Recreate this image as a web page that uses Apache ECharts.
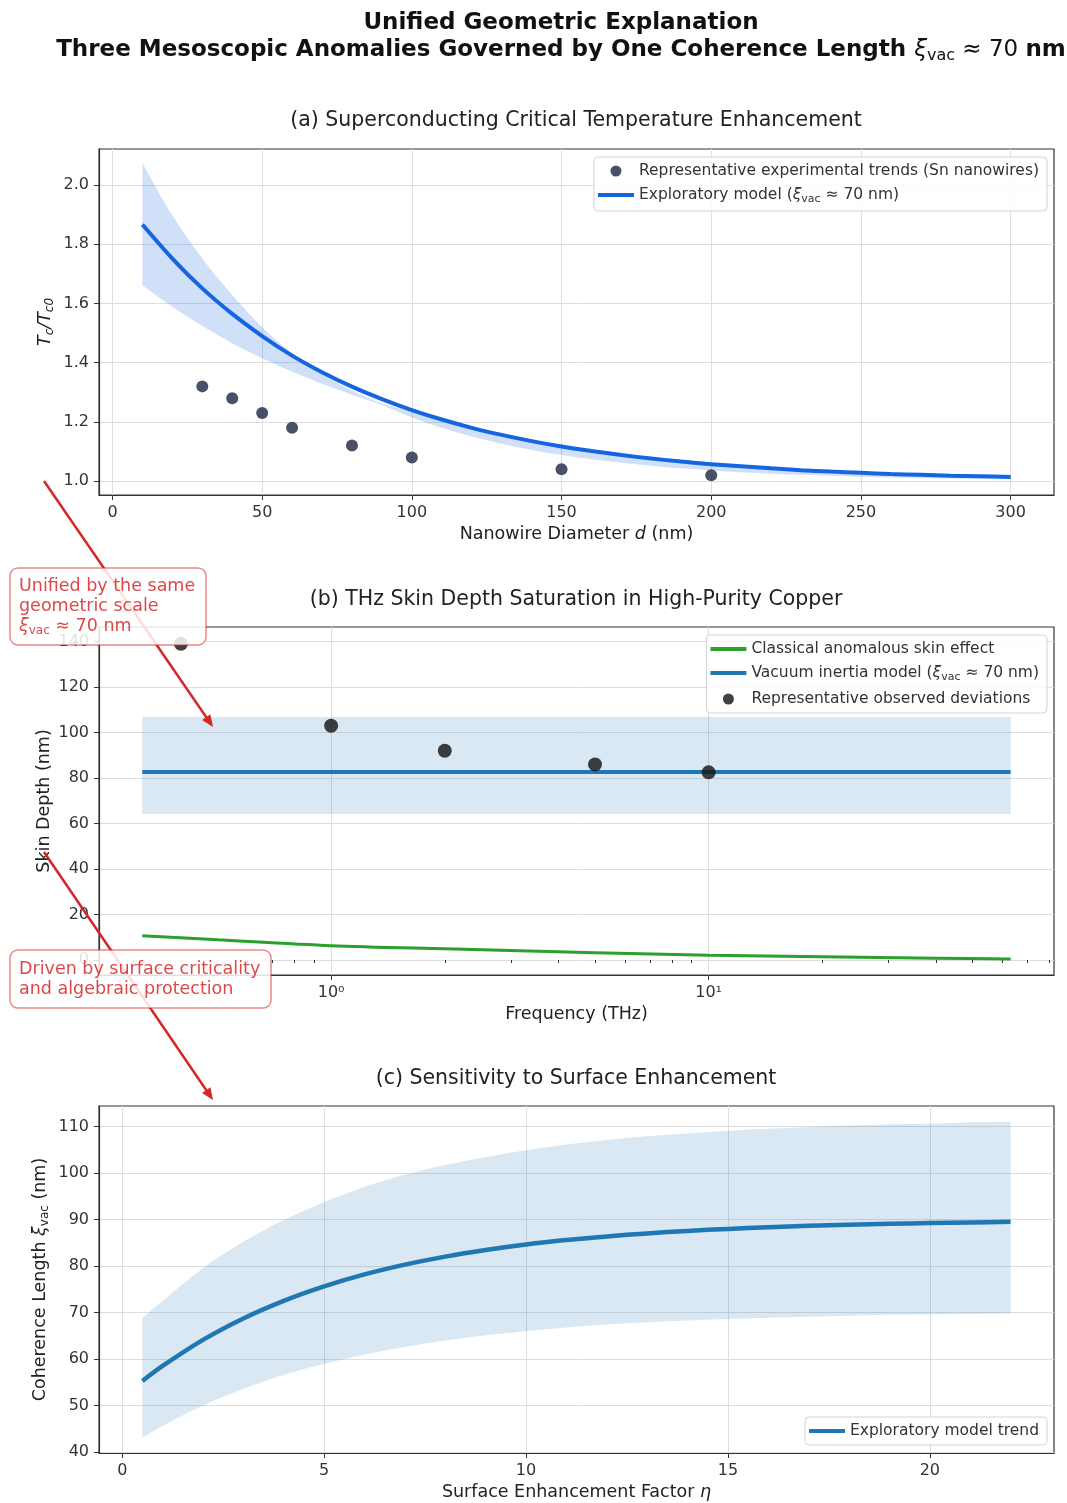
<!DOCTYPE html>
<html><head><meta charset="utf-8">
<script src="https://cdn.jsdelivr.net/npm/echarts@6/dist/echarts.min.js"></script>
<style>html,body{margin:0;padding:0;background:#fff}#c{width:1067px;height:1503px}</style>
</head><body><div id="c"></div>
<script>
// ---------- data ----------
// (a) Tc enhancement
const diameterModel = [10,20,30,40,50,60,70,80,90,100,110,120,130,140,150,160,170,180,190,200,210,220,230,240,250,260,270,280,290,300];
const tcModel = [1.867,1.752,1.651,1.565,1.490,1.424,1.368,1.319,1.277,1.240,1.208,1.180,1.156,1.135,1.117,1.102,1.088,1.076,1.066,1.057,1.050,1.043,1.037,1.032,1.028,1.024,1.021,1.018,1.016,1.014];
const tcUpper = [2.074,1.898,1.752,1.629,1.520,1.432,1.362,1.306,1.262,1.235,1.208,1.182,1.160,1.140,1.122,1.107,1.094,1.082,1.072,1.063,1.055,1.048,1.042,1.037,1.032,1.028,1.025,1.022,1.019,1.017];
const tcLower = [1.662,1.589,1.524,1.466,1.415,1.369,1.329,1.292,1.257,1.215,1.180,1.151,1.126,1.105,1.088,1.074,1.062,1.052,1.043,1.036,1.030,1.025,1.021,1.018,1.015,1.012,1.010,1.009,1.007,1.006];
const diameterExp = [30,40,50,60,80,100,150,200];
const tcExp = [1.32,1.28,1.23,1.18,1.12,1.08,1.04,1.02];

// (b) THz skin depth
const freqBand = [0.316, 63.1];
const skinBandLow = [64.2, 64.2];
const skinBandHigh = [106.8, 106.8];
const skinVacuum = [82.6, 82.6];
const freqClassical = [0.316,0.5,1,2,5,10,20,40,63.1];
const skinClassical = [10.7,8.9,6.3,4.9,3.2,2.1,1.4,0.8,0.45];
const freqObs = [0.4,1,2,5,10];
const skinObs = [139,103,92,86,82.5];

// (c) sensitivity
const eta = [0.5,1,2,3,4,5,6,7,8,9,10,11,12,13,14,15,16,17,18,19,20,21,22];
const xiModel = [55.28,58.51,64.12,68.73,72.52,75.63,78.19,80.29,82.02,83.44,84.61,85.57,86.36,87.01,87.54,87.98,88.34,88.63,88.88,89.08,89.24,89.38,89.49];
const xiUpper = [68.8,72.5,79.5,85.2,89.9,93.7,97.0,99.6,101.7,103.4,104.9,106.1,107.1,107.9,108.5,109.1,109.5,109.9,110.2,110.5,110.6,110.9,111.0];
const xiLower = [43.1,45.6,50.0,53.6,56.6,59.0,61.0,62.6,64.0,65.1,66.0,66.8,67.4,67.9,68.3,68.6,68.9,69.1,69.3,69.5,69.6,69.7,69.8];

// tick labels
const xTicksA = [0,50,100,150,200,250,300];
const yTicksA = [1.0,1.2,1.4,1.6,1.8,2.0];
const xTicksB = [1,10];
const xMinorB = [0.3,0.4,0.5,0.6,0.7,0.8,0.9,2,3,4,5,6,7,8,9,20,30,40,50,60,70,80];
const yTicksB = [0,20,40,60,80,100,120,140];
const xTicksC = [0,5,10,15,20];
const yTicksC = [40,50,60,70,80,90,100,110];

// ---------- helpers ----------
const F = 'DejaVu Sans';
const TXT = '#333';
const zip = (a, b) => a.map((v, i) => [v, b[i]]);
const lg = Math.log10;
const sup = {0: '\u2070', 1: '\u00b9', 2: '\u00b2'};

const TICK = 16, NAME = 17.5, LEG = 15.5;
const GL = 99, GR = 1067 - 1054;
const grids = [
  {left: GL, right: GR, top: 149, height: 346},
  {left: GL, right: GR, top: 627, height: 348},
  {left: GL, right: GR, top: 1106, height: 347}
].map(g => Object.assign(g, {show: true, borderColor: '#333', borderWidth: 1.2, backgroundColor: 'transparent'}));

function axis(extra) {
  const base = {
    axisLine: {show: true, onZero: false, lineStyle: {color: '#333', width: 1.2}},
    axisTick: {show: true, inside: false, length: 5, lineStyle: {color: '#333', width: 1}},
    axisLabel: {color: TXT, fontSize: TICK, fontFamily: F, margin: 10},
    splitLine: {show: true, lineStyle: {color: '#dedede', width: 1}},
    nameLocation: 'middle',
    nameMoveOverlap: false,
    nameTextStyle: {fontSize: NAME, fontFamily: F, color: '#222'}
  };
  const o = Object.assign({}, base, extra);
  ['axisLine','axisTick','axisLabel','splitLine','nameTextStyle'].forEach(k => {
    if (extra[k]) o[k] = Object.assign({}, base[k], extra[k]);
  });
  return o;
}

// smooth (Catmull-Rom) path segment through already-projected points
function crSegments(p) {
  let d = '';
  for (let i = 0; i < p.length - 1; i++) {
    const p0 = p[i - 1] || p[i], p1 = p[i], p2 = p[i + 1], p3 = p[i + 2] || p[i + 1];
    const c1 = [p1[0] + (p2[0] - p0[0]) / 6, p1[1] + (p2[1] - p0[1]) / 6];
    const c2 = [p2[0] - (p3[0] - p1[0]) / 6, p2[1] - (p3[1] - p1[1]) / 6];
    d += ' C' + c1[0] + ',' + c1[1] + ' ' + c2[0] + ',' + c2[1] + ' ' + p2[0] + ',' + p2[1];
  }
  return d;
}

// band between two curves, positioned through the axes' own coord transform
function band(xIdx, yIdx, xs, lo, hi, color) {
  return {
    type: 'custom', xAxisIndex: xIdx, yAxisIndex: yIdx, silent: true, z: 1, clip: true,
    data: xs.map((x, i) => [x, lo[i], hi[i]]),
    encode: {x: 0, y: [1, 2]},
    renderItem: (params, api) => {
      if (params.dataIndex !== 0) return null;
      const up = xs.map((x, i) => api.coord([x, hi[i]]));
      const dn = xs.map((x, i) => api.coord([x, lo[i]])).reverse();
      const d = 'M' + up[0][0] + ',' + up[0][1] + crSegments(up) +
        ' L' + dn[0][0] + ',' + dn[0][1] + crSegments(dn) + ' Z';
      return {type: 'path', shape: {pathData: d}, style: {fill: color}};
    }
  };
}

const nameA1 = 'Representative experimental trends (Sn nanowires)';
const nameA2 = 'Exploratory model (\u03bevac \u2248 70 nm)';
const nameB1 = 'Classical anomalous skin effect';
const nameB2 = 'Vacuum inertia model (\u03bevac \u2248 70 nm)';
const nameB3 = 'Representative observed deviations';
const nameC1 = 'Exploratory model trend';

const lineIcon = 'path://M0,0H36V4H0Z';
const legendBase = {
  orient: 'vertical', right: 20, itemWidth: 36, itemHeight: 11, itemGap: 8,
  backgroundColor: 'rgba(255,255,255,0.85)', borderColor: '#d4d4d4', borderWidth: 1, borderRadius: 4,
  padding: [6, 8, 6, 4],
  textStyle: {fontSize: LEG, fontFamily: F, color: TXT, rich: {
    x: {fontSize: LEG, fontStyle: 'italic', fontFamily: F, color: TXT},
    s: {fontSize: 11, fontFamily: F, color: TXT, padding: [9, 0, 0, 0]}
  }},
  formatter: n => n.replace('\u03bevac', '{x|\u03be}{s|vac}')
};

const blueA = '#1565e0';
const tab = '#1f77b4';
const RED = 'rgba(214,39,40,0.85)';
const subTitleStyle = {fontSize: 20.5, fontWeight: 'normal', fontFamily: F, color: '#222'};

const option = {
  animation: false,
  backgroundColor: '#fff',
  textStyle: {fontFamily: F},
  title: [
    {text: 'Unified Geometric Explanation', left: 561, textAlign: 'center', top: 12, padding: 0,
     textStyle: {fontSize: 23, fontWeight: 'bold', fontFamily: F, color: '#111'}},
    {text: '{b|Three Mesoscopic Anomalies Governed by One Coherence Length }{x|\u03be}{s|vac}{m| \u2248 70 }{b|nm}',
     left: 561, textAlign: 'center', top: 36, padding: 0,
     textStyle: {fontSize: 23, fontWeight: 'normal', fontFamily: F, color: '#111', rich: {
       b: {fontSize: 23, fontWeight: 'bold', fontFamily: F, color: '#111'},
       x: {fontSize: 23, fontWeight: 'normal', fontStyle: 'italic', fontFamily: F, color: '#111'},
       s: {fontSize: 16, fontWeight: 'normal', fontFamily: F, color: '#111', padding: [12, 0, 0, 0]},
       m: {fontSize: 23, fontWeight: 'normal', fontFamily: F, color: '#111'}
     }}},
    {text: '(a) Superconducting Critical Temperature Enhancement', left: 576, textAlign: 'center', top: 110, padding: 0,
     textStyle: subTitleStyle},
    {text: '(b) THz Skin Depth Saturation in High-Purity Copper', left: 576, textAlign: 'center', top: 589, padding: 0,
     textStyle: subTitleStyle},
    {text: '(c) Sensitivity to Surface Enhancement', left: 576, textAlign: 'center', top: 1068, padding: 0,
     textStyle: subTitleStyle}
  ],
  grid: grids,
  legend: [
    Object.assign({}, legendBase, {top: 157, data: [
      {name: nameA1, icon: 'circle'}, {name: nameA2, icon: lineIcon}]}),
    Object.assign({}, legendBase, {top: 635, data: [
      {name: nameB1, icon: lineIcon}, {name: nameB2, icon: lineIcon}, {name: nameB3, icon: 'circle'}]}),
    Object.assign({}, legendBase, {top: 1417, data: [{name: nameC1, icon: lineIcon}]})
  ],
  xAxis: [
    axis({type: 'value', gridIndex: 0, min: -4.5, max: 314.5,
      axisTick: {customValues: xTicksA}, axisLabel: {customValues: xTicksA},
      name: 'Nanowire Diameter {i|d} (nm)', nameGap: 30,
      nameTextStyle: {rich: {i: {fontSize: NAME, fontStyle: 'italic', fontFamily: F, color: '#222'}}}}),
    axis({type: 'value', gridIndex: 1, min: lg(0.2427), max: lg(82.2),
      axisTick: {customValues: xTicksB.map(lg)},
      axisLabel: {customValues: xTicksB.map(lg), formatter: v => '10' + sup[Math.round(v)]},
      name: 'Frequency (THz)', nameGap: 30}),
    {type: 'value', gridIndex: 1, position: 'bottom', min: lg(0.2427), max: lg(82.2),
      axisLine: {show: false}, axisLabel: {show: false}, splitLine: {show: false},
      axisTick: {show: true, length: 3, customValues: xMinorB.map(lg), lineStyle: {color: '#333'}}},
    axis({type: 'value', gridIndex: 2, min: -0.575, max: 23.075,
      axisTick: {customValues: xTicksC}, axisLabel: {customValues: xTicksC},
      name: 'Surface Enhancement Factor {i|\u03b7}', nameGap: 30,
      nameTextStyle: {rich: {i: {fontSize: NAME, fontStyle: 'italic', fontFamily: F, color: '#222'}}}})
  ],
  yAxis: [
    axis({type: 'value', gridIndex: 0, min: 0.953, max: 2.122,
      axisTick: {customValues: yTicksA}, axisLabel: {customValues: yTicksA, formatter: v => v.toFixed(1)},
      name: '{i|T}{s|c}{i|/T}{s|c0}', nameGap: 43,
      nameTextStyle: {rich: {
        i: {fontSize: NAME, fontStyle: 'italic', fontFamily: F, color: '#222'},
        s: {fontSize: 12, fontStyle: 'italic', fontFamily: F, color: '#222', padding: [9, 0, 0, 0]}}}}),
    axis({type: 'value', gridIndex: 1, min: -6.6, max: 146.4,
      axisTick: {customValues: yTicksB}, axisLabel: {customValues: yTicksB},
      name: 'Skin Depth (nm)', nameGap: 46}),
    axis({type: 'value', gridIndex: 2, min: 39.8, max: 114.4,
      axisTick: {customValues: yTicksC}, axisLabel: {customValues: yTicksC},
      name: 'Coherence Length {x|\u03be}{s|vac} (nm)', nameGap: 48,
      nameTextStyle: {rich: {
        x: {fontSize: NAME, fontStyle: 'italic', fontFamily: F, color: '#222'},
        s: {fontSize: 12, fontFamily: F, color: '#222', padding: [9, 0, 0, 0]}}}})
  ],
  series: [
    // (a)
    band(0, 0, diameterModel, tcLower, tcUpper, 'rgba(21,101,224,0.2)'),
    {type: 'line', name: nameA2, xAxisIndex: 0, yAxisIndex: 0, symbol: 'none', smooth: 0.3,
     lineStyle: {color: blueA, width: 4}, itemStyle: {color: blueA}, data: zip(diameterModel, tcModel), z: 3},
    {type: 'scatter', name: nameA1, xAxisIndex: 0, yAxisIndex: 0, symbolSize: 12,
     itemStyle: {color: '#1b2541'}, data: zip(diameterExp, tcExp), z: 4},
    // (b)
    band(1, 1, freqBand.map(lg), skinBandLow, skinBandHigh, 'rgba(31,119,180,0.17)'),
    {type: 'line', name: nameB1, xAxisIndex: 1, yAxisIndex: 1, symbol: 'none', smooth: 0.3,
     lineStyle: {color: '#2ca02c', width: 3}, itemStyle: {color: '#2ca02c'}, data: zip(freqClassical.map(lg), skinClassical), z: 3},
    {type: 'line', name: nameB2, xAxisIndex: 1, yAxisIndex: 1, symbol: 'none',
     lineStyle: {color: tab, width: 4}, itemStyle: {color: tab}, data: zip(freqBand.map(lg), skinVacuum), z: 3},
    {type: 'scatter', name: nameB3, xAxisIndex: 1, yAxisIndex: 1, symbolSize: 14,
     itemStyle: {color: '#111'}, data: zip(freqObs.map(lg), skinObs), z: 4},
    // (c)
    band(3, 2, eta, xiLower, xiUpper, 'rgba(31,119,180,0.17)'),
    {type: 'line', name: nameC1, xAxisIndex: 3, yAxisIndex: 2, symbol: 'none', smooth: 0.3,
     lineStyle: {color: tab, width: 4.5}, itemStyle: {color: tab}, data: zip(eta, xiModel), z: 3}
  ],
  graphic: [
    {type: 'line', z: 50, shape: {x1: 44, y1: 481, x2: 206.5, y2: 717.5}, style: {stroke: '#d62728', lineWidth: 2.5}},
    {type: 'polygon', z: 50, shape: {points: [[213, 727], [202.1, 719.9], [210.3, 714.3]]}, style: {fill: '#d62728'}},
    {type: 'line', z: 50, shape: {x1: 44, y1: 852, x2: 206.5, y2: 1090.5}, style: {stroke: '#d62728', lineWidth: 2.5}},
    {type: 'polygon', z: 50, shape: {points: [[213, 1100], [202.1, 1092.9], [210.4, 1087.3]]}, style: {fill: '#d62728'}},
    {type: 'rect', z: 60, shape: {x: 10, y: 568, width: 196, height: 77, r: 8},
     style: {fill: 'rgba(255,255,255,0.85)', stroke: 'rgba(214,39,40,0.55)', lineWidth: 1.5}},
    {type: 'text', z: 61, x: 19, y: 576, style: {
      text: 'Unified by the same\ngeometric scale\n{x|\u03be}{s|vac}{n| \u2248 70 nm}',
      fill: RED, fontSize: 17.5, fontFamily: F, lineHeight: 20, verticalAlign: 'top', align: 'left',
      rich: {
        x: {fontSize: 17.5, fontStyle: 'italic', fontFamily: F, fill: RED, lineHeight: 20},
        s: {fontSize: 12, fontFamily: F, fill: RED, padding: [9, 0, 0, 0], lineHeight: 20},
        n: {fontSize: 17.5, fontFamily: F, fill: RED, lineHeight: 20}
      }}},
    {type: 'rect', z: 60, shape: {x: 10, y: 950, width: 261, height: 58, r: 8},
     style: {fill: 'rgba(255,255,255,0.85)', stroke: 'rgba(214,39,40,0.55)', lineWidth: 1.5}},
    {type: 'text', z: 61, x: 19, y: 959, style: {
      text: 'Driven by surface criticality\nand algebraic protection',
      fill: RED, fontSize: 17.5, fontFamily: F, lineHeight: 20, verticalAlign: 'top', align: 'left'}}
  ]
};

const chart = echarts.init(document.getElementById('c'), null, {renderer: 'canvas'});
chart.setOption(option);
</script>
</body></html>
